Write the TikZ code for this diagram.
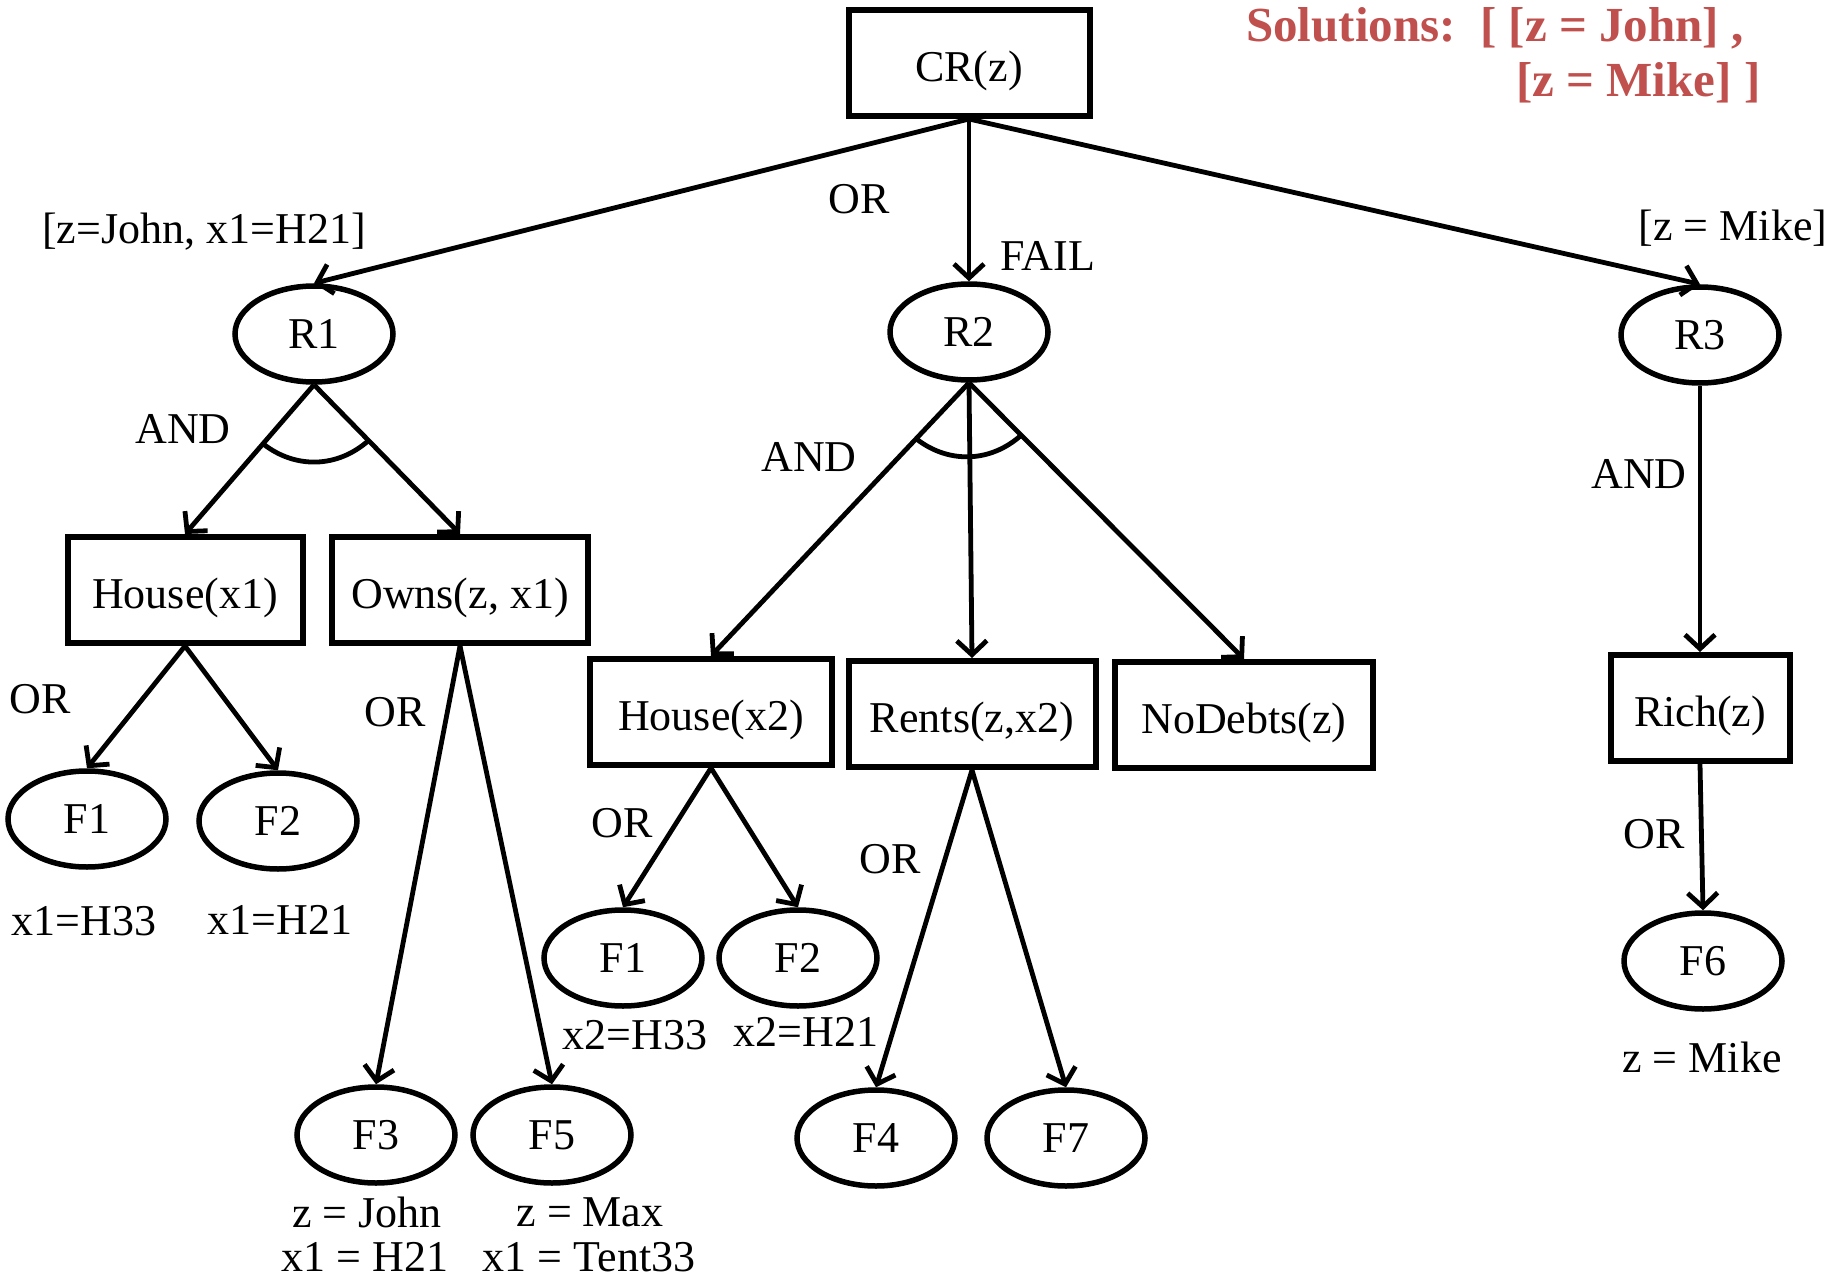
\documentclass[tikz,border=0pt]{standalone}
\usepackage{fontspec}
\setmainfont{Liberation Serif}
\usetikzlibrary{arrows.meta,calc,shapes.geometric}
\definecolor{solred}{RGB}{192,80,77}

\begin{document}
\begin{tikzpicture}[x=1pt,y=-1pt,
  every node/.style={font=\fontsize{44}{52}\selectfont},
  box/.style={draw,line width=6pt,rectangle,inner sep=0pt,minimum height=106pt,
              text height=36.5pt,text depth=0pt},
  goal/.style={draw,line width=5.5pt,ellipse,inner sep=0pt,minimum width=158pt,minimum height=96pt},
  lbl/.style={inner sep=0pt},
  link/.style={line width=4.8pt,-{Straight Barb[length=14pt,width=30pt]}},
  andarc/.style={line width=4.8pt}
]
\useasboundingbox (0,0) rectangle (1826,1281);

% solution list
\node[lbl,anchor=west,font=\fontsize{49}{56}\selectfont\bfseries,text=solred] (sol1) at (1246,28) {Solutions:\ \ [ [z = John] ,};
\node[lbl,anchor=west,font=\fontsize{49}{56}\selectfont\bfseries,text=solred] (sol2) at (1516,83) {[z = Mike] ]};

% goal tree
\node[box,minimum width=241pt] (cr) at (969,63) {CR(z)};
\node[goal] (r1) at (314,334) {R1};
\node[goal] (r2) at (969,332) {R2};
\node[goal] (r3) at (1700,335) {R3};

\node[box,minimum width=235pt] (hx1) at (185,590) {House(x1)};
\node[box,minimum width=256pt] (own) at (460,590) {Owns(z, x1)};
\node[box,minimum width=242pt] (hx2) at (711,712) {House(x2)};
\node[box,minimum width=247pt] (rent) at (972,714) {Rents(z,x2)};
\node[box,minimum width=258pt] (nod) at (1244,715) {NoDebts(z)};
\node[box,minimum width=179pt] (rich) at (1700,708) {Rich(z)};

\node[goal] (fa1) at (87,819) {F1};
\node[goal] (fa2) at (278,821) {F2};
\node[goal] (fb1) at (623,958) {F1};
\node[goal] (fb2) at (798,958) {F2};
\node[goal] (f3) at (376,1135) {F3};
\node[goal] (f5) at (552,1135) {F5};
\node[goal] (f4) at (876,1138) {F4};
\node[goal] (f7) at (1066,1138) {F7};
\node[goal] (f6) at (1703,961) {F6};

% connectors
\draw[link] (cr.south) -- (r1.north);
\draw[link] (cr.south) -- (r2.north);
\draw[link] (cr.south) -- (r3.north);
\draw[link] (r1.south) -- (hx1.north);
\draw[link] (r1.south) -- (own.north);
\draw[link] (r2.south) -- (hx2.north);
\draw[link] (r2.south) -- (rent.north);
\draw[link] (r2.south) -- (nod.north);
\draw[link] (r3.south) -- (rich.north);
\draw[link] (hx1.south) -- (fa1.north);
\draw[link] (hx1.south) -- (fa2.north);
\draw[link] (own.south) -- (f3.north);
\draw[link] (own.south) -- (f5.north);
\draw[link] (hx2.south) -- (fb1.north);
\draw[link] (hx2.south) -- (fb2.north);
\draw[link] (rent.south) -- (f4.north);
\draw[link] (rent.south) -- (f7.north);
\draw[link] (rich.south) -- (f6.north);

% AND arcs
\draw[andarc] ($(r1.south)!78pt!(hx1.north)$) to[bend right=40] ($(r1.south)!78pt!(own.north)$);
\draw[andarc] ($(r2.south)!77pt!(hx2.north)$) to[bend right=40] ($(r2.south)!74pt!(nod.north)$);

% edge labels
\node[lbl] (l1) at (204,232) {[z=John, x1=H21]};
\node[lbl] (l2) at (859,199) {OR};
\node[lbl] (l3) at (1048,256) {FAIL};
\node[lbl] (l4) at (1733,228) {[z = Mike]};
\node[lbl] (l5) at (183,429) {AND};
\node[lbl] (l6) at (809,457) {AND};
\node[lbl] (l7) at (1639,474) {AND};
\node[lbl] (l8) at (40,699) {OR};
\node[lbl] (l9) at (395,712) {OR};
\node[lbl] (l10) at (622,823) {OR};
\node[lbl] (l11) at (890,859) {OR};
\node[lbl] (l12) at (1654,834) {OR};

% bindings under the facts
\node[lbl] (b1) at (84,921) {x1=H33};
\node[lbl] (b2) at (280,920) {x1=H21};
\node[lbl] (b3) at (635,1035) {x2=H33};
\node[lbl] (b4) at (806,1032) {x2=H21};
\node[lbl] (b5) at (367,1212) {z = John};
\node[lbl] (b6) at (365,1257) {x1 = H21};
\node[lbl] (b7) at (590,1212) {z = Max};
\node[lbl] (b8) at (589,1257) {x1 = Tent33};
\node[lbl] (b9) at (1702,1057) {z = Mike};
\end{tikzpicture}
\end{document}
